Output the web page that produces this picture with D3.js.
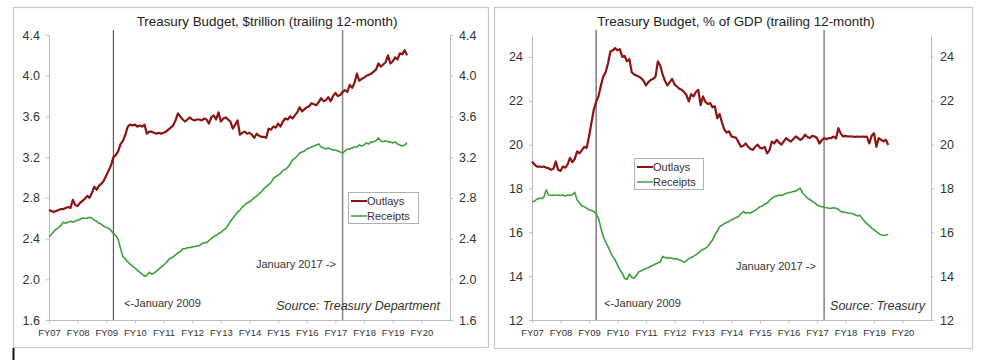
<!DOCTYPE html>
<html>
<head>
<meta charset="utf-8">
<script src="https://cdn.jsdelivr.net/npm/d3@7"></script>
<style>
  html, body { margin: 0; padding: 0; background: #fff; }
  svg { display: block; font-family: "Liberation Sans", Arial, sans-serif; }
</style>
</head>
<body>
<svg id="chart" width="984" height="360"></svg>
<script>
// Monthly data, index 0 = October 2006 (start of FY07)
const fyLabels = ["FY07","FY08","FY09","FY10","FY11","FY12","FY13","FY14","FY15","FY16","FY17","FY18","FY19","FY20"];

const outlaysTrillion = [
  2.68, 2.67, 2.66, 2.67, 2.68, 2.69, 2.69, 2.70, 2.71, 2.70, 2.78, 2.73,
  2.72, 2.75, 2.77, 2.79, 2.82, 2.80, 2.85, 2.91, 2.88, 2.92, 2.94, 2.97,
  3.02, 3.07, 3.12, 3.20, 3.22, 3.26, 3.33, 3.36, 3.42, 3.50, 3.52, 3.51,
  3.52, 3.50, 3.51, 3.50, 3.52, 3.43, 3.45, 3.45, 3.44, 3.43, 3.44, 3.43,
  3.44, 3.45, 3.47, 3.49, 3.51, 3.56, 3.63, 3.60, 3.57, 3.55, 3.57, 3.59,
  3.57, 3.56, 3.57, 3.57, 3.56, 3.58, 3.57, 3.53, 3.59, 3.61, 3.57, 3.64,
  3.55, 3.58, 3.59, 3.57, 3.55, 3.48, 3.52, 3.56, 3.42, 3.44, 3.45, 3.43,
  3.44, 3.42, 3.39, 3.43, 3.41, 3.40, 3.40, 3.39, 3.48, 3.47, 3.50, 3.49,
  3.53, 3.50, 3.55, 3.58, 3.57, 3.60, 3.58, 3.61, 3.64, 3.69, 3.65, 3.67,
  3.69, 3.70, 3.73, 3.72, 3.71, 3.74, 3.78, 3.75, 3.76, 3.79, 3.75, 3.80,
  3.83, 3.80, 3.81, 3.84, 3.86, 3.84, 3.91, 3.88, 3.93, 4.02, 3.95, 3.97,
  3.98, 4.00, 4.01, 4.02, 4.04, 4.06, 4.12, 4.09, 4.11, 4.13, 4.20, 4.12,
  4.14, 4.18, 4.16, 4.22, 4.21, 4.25, 4.20
];
const receiptsTrillion = [
  2.42, 2.44, 2.47, 2.49, 2.51, 2.53, 2.56, 2.55, 2.56, 2.57, 2.56, 2.57,
  2.58, 2.59, 2.60, 2.60, 2.60, 2.61, 2.60, 2.58, 2.57, 2.55, 2.54, 2.52,
  2.51, 2.50, 2.48, 2.45, 2.43, 2.39, 2.30, 2.22, 2.20, 2.17, 2.15, 2.13,
  2.11, 2.09, 2.07, 2.05, 2.03, 2.04, 2.07, 2.05, 2.06, 2.08, 2.10, 2.12,
  2.14, 2.16, 2.19, 2.21, 2.22, 2.24, 2.26, 2.27, 2.30, 2.30, 2.31, 2.31,
  2.32, 2.32, 2.33, 2.33, 2.35, 2.36, 2.36, 2.38, 2.40, 2.42, 2.43, 2.45,
  2.46, 2.48, 2.50, 2.53, 2.57, 2.60, 2.63, 2.66, 2.68, 2.71, 2.73, 2.75,
  2.76, 2.78, 2.80, 2.82, 2.84, 2.86, 2.89, 2.91, 2.93, 2.95, 2.99, 3.01,
  3.02, 3.04, 3.07, 3.08, 3.10, 3.13, 3.17, 3.19, 3.21, 3.24, 3.25, 3.26,
  3.28, 3.29, 3.30, 3.31, 3.32, 3.33, 3.30, 3.29, 3.28, 3.29, 3.28, 3.27,
  3.27, 3.26, 3.25, 3.24, 3.26, 3.28, 3.28, 3.29, 3.30, 3.30, 3.32, 3.31,
  3.32, 3.34, 3.33, 3.35, 3.35, 3.36, 3.39, 3.36, 3.35, 3.36, 3.35, 3.35,
  3.34, 3.35, 3.33, 3.32, 3.31, 3.32, 3.34
];
const outlaysGDP = [
  19.23, 19.10, 19.00, 19.00, 18.98, 19.00, 18.95, 18.92, 18.85, 18.90, 19.23, 18.85,
  18.80, 19.00, 18.95, 19.10, 19.40, 19.20, 19.35, 19.69, 19.60, 19.75, 19.90, 19.85,
  20.37, 20.98, 21.59, 21.95, 22.20, 22.70, 23.10, 23.30, 23.70, 24.25, 24.30, 24.40,
  24.30, 24.35, 24.00, 24.05, 23.80, 23.90, 23.30, 23.20, 23.15, 23.10, 23.03, 22.90,
  22.70, 22.85, 22.95, 23.00, 23.10, 23.80, 23.60, 23.20, 22.90, 22.70, 22.85, 23.00,
  22.75, 22.65, 22.55, 22.50, 22.40, 22.27, 21.97, 22.30, 22.20, 22.40, 22.50, 21.80,
  22.20, 21.95, 21.85, 21.90, 21.70, 21.75, 21.20, 21.40, 21.00, 20.68, 20.55, 20.60,
  20.37, 20.35, 20.30, 20.10, 19.90, 19.95, 20.05, 19.90, 19.80, 19.76, 19.90, 20.00,
  19.85, 19.83, 19.90, 19.60, 19.75, 20.14, 20.05, 20.22, 20.10, 20.00, 20.15, 20.30,
  20.20, 20.14, 20.25, 20.37, 20.30, 20.22, 20.30, 20.45, 20.35, 20.30, 20.40, 20.37,
  20.30, 20.05, 20.20, 20.30, 20.25, 20.30, 20.30, 20.37, 20.28, 20.75, 20.50, 20.37,
  20.40, 20.37, 20.38, 20.37, 20.35, 20.37, 20.36, 20.37, 20.35, 20.37, 20.05, 20.40,
  20.52, 19.90, 20.30, 20.22, 20.15, 20.22, 19.98
];
const receiptsGDP = [
  17.40, 17.42, 17.50, 17.55, 17.55, 17.60, 17.94, 17.70, 17.68, 17.70, 17.68, 17.70,
  17.68, 17.70, 17.65, 17.70, 17.68, 17.72, 17.82, 17.47, 17.35, 17.20, 17.17, 17.10,
  17.02, 17.00, 16.95, 16.85, 16.64, 16.20, 15.80, 15.55, 15.35, 15.10, 14.90, 14.74,
  14.50, 14.30, 14.13, 13.90, 13.85, 14.10, 13.95, 13.90, 14.05, 14.20, 14.25, 14.30,
  14.35, 14.38, 14.45, 14.50, 14.55, 14.60, 14.65, 14.90, 14.85, 14.82, 14.84, 14.80,
  14.80, 14.78, 14.75, 14.70, 14.63, 14.70, 14.80, 14.85, 14.90, 14.97, 15.05, 15.15,
  15.22, 15.27, 15.35, 15.50, 15.65, 15.88, 16.05, 16.26, 16.32, 16.40, 16.45, 16.50,
  16.57, 16.62, 16.68, 16.72, 16.85, 16.95, 16.87, 16.90, 16.88, 16.95, 17.00, 17.08,
  17.17, 17.20, 17.30, 17.33, 17.45, 17.55, 17.63, 17.65, 17.70, 17.68, 17.72, 17.78,
  17.80, 17.83, 17.86, 17.88, 17.95, 18.01, 17.78, 17.68, 17.55, 17.50, 17.40, 17.35,
  17.25, 17.20, 17.17, 17.15, 17.12, 17.10, 17.10, 17.12, 17.10, 17.05, 16.95, 16.92,
  16.90, 16.88, 16.87, 16.85, 16.80, 16.75, 16.78, 16.64, 16.50, 16.40, 16.30, 16.19,
  16.12, 16.03, 15.95, 15.88, 15.85, 15.88, 15.90
];
const trillionTicks = [1.6, 2.0, 2.4, 2.8, 3.2, 3.6, 4.0, 4.4];
const gdpTicks = [12, 14, 16, 18, 20, 22, 24];
// month indexes of the two marker lines (January 2009, January 2017)
const markerMonths = [27, 123];
const seriesNames = ["Outlays", "Receipts"];

const svg = d3.select("#chart");
const colors = { Outlays: "#8c1313", Receipts: "#3f9f3a" };

function panel(cfg) {
  const g = svg.append("g");
  // frame
  g.append("rect").attr("x", cfg.frame[0] + 0.5).attr("y", cfg.frame[1] + 0.5)
    .attr("width", cfg.frame[2]).attr("height", cfg.frame[3])
    .attr("fill", "#fff").attr("stroke", "#c8c8c8").attr("stroke-width", 1.2);

  const x = d3.scaleLinear().domain([0, 168]).range([cfg.x0, cfg.x1]);
  const y = d3.scaleLinear().domain(cfg.yDomain).range([320, 35]);

  // title
  g.append("text").attr("x", cfg.titleX).attr("y", 26).attr("text-anchor", "middle")
    .attr("font-size", 13.4).attr("fill", "#222").text(cfg.title);

  // axes
  const fmt = cfg.fmt;
  const yl = g.append("g").attr("transform", `translate(${cfg.x0},0)`)
    .call(d3.axisLeft(y).tickValues(cfg.ticks).tickSize(3).tickSizeOuter(0).tickPadding(6).tickFormat(fmt));
  const yr = g.append("g").attr("transform", `translate(${cfg.x1},0)`)
    .call(d3.axisRight(y).tickValues(cfg.ticks).tickSize(3).tickSizeOuter(0).tickPadding(6).tickFormat(fmt));
  const xa = g.append("g").attr("transform", `translate(0,320)`)
    .call(d3.axisBottom(x).tickValues(fyLabels.map((d, i) => i * 12)).tickSize(3).tickSizeOuter(0)
      .tickPadding(6).tickFormat((d, i) => fyLabels[i]));
  [yl, yr, xa].forEach(a => {
    a.select(".domain").attr("stroke", "#bdbdbd");
    a.selectAll(".tick line").attr("stroke", "#bdbdbd");
  });
  [yl, yr].forEach(a => a.selectAll(".tick text").attr("font-size", 12.5)
    .attr("fill", "#333").attr("font-family", "Liberation Sans, Arial, sans-serif"));
  xa.selectAll(".tick text").attr("font-size", 9.5).attr("fill", "#333")
    .attr("font-family", "Liberation Sans, Arial, sans-serif");

  // marker lines
  g.selectAll(".marker").data(markerMonths).join("line")
    .attr("x1", d => x(d)).attr("x2", d => x(d))
    .attr("y1", 30).attr("y2", 320)
    .attr("stroke", (d, i) => i === 0 ? "#5a5a5a" : "#8a8a8a")
    .attr("stroke-width", (d, i) => i === 0 ? 1.2 : 1.6);

  // series
  const line = d3.line().x((d, i) => x(i)).y(d => y(d));
  g.append("path").datum(cfg.receipts).attr("d", line).attr("fill", "none")
    .attr("stroke", colors.Receipts).attr("stroke-width", 1.6).attr("stroke-linejoin", "round");
  g.append("path").datum(cfg.outlays).attr("d", line).attr("fill", "none")
    .attr("stroke", colors.Outlays).attr("stroke-width", 2.2).attr("stroke-linejoin", "round");

  // annotations
  g.append("text").attr("x", cfg.jan17[0]).attr("y", cfg.jan17[1]).attr("font-size", 11)
    .attr("fill", "#333").text("January 2017 ->");
  g.append("text").attr("x", cfg.jan09[0]).attr("y", cfg.jan09[1]).attr("font-size", 11)
    .attr("fill", "#333").text("<-January 2009");
  g.append("text").attr("x", cfg.source[0]).attr("y", cfg.source[1]).attr("font-size", 12.5)
    .attr("font-style", "italic").attr("fill", "#333").attr("text-anchor", "end").text(cfg.sourceText);

  // legend
  const lg = g.append("g").attr("transform", `translate(${cfg.legend[0]},${cfg.legend[1]})`);
  lg.append("rect").attr("x", 0.5).attr("y", 0.5).attr("width", cfg.legend[2]).attr("height", 31)
    .attr("fill", "#fff").attr("stroke", "#b0b0b0");
  seriesNames.forEach((name, i) => {
    const yy = 9 + i * 15;
    lg.append("line").attr("x1", 3).attr("x2", 19).attr("y1", yy).attr("y2", yy)
      .attr("stroke", colors[name]).attr("stroke-width", name === "Outlays" ? 2 : 1.5);
    lg.append("text").attr("x", 19).attr("y", yy + 4).attr("font-size", 11).attr("fill", "#333").text(name);
  });
}

panel({
  frame: [13, 7, 475, 340],
  x0: 49, x1: 450,
  yDomain: [1.6, 4.4], ticks: trillionTicks, fmt: d3.format(".1f"),
  title: "Treasury Budget, $trillion (trailing 12-month)", titleX: 267,
  outlays: outlaysTrillion, receipts: receiptsTrillion,
  jan17: [256, 268], jan09: [124, 307], source: [440, 310], sourceText: "Source: Treasury Department",
  legend: [348, 192, 70]
});
panel({
  frame: [494, 7, 478, 341],
  x0: 532, x1: 931,
  yDomain: [12, 25], ticks: gdpTicks, fmt: d3.format("d"),
  title: "Treasury Budget, % of GDP (trailing 12-month)", titleX: 736,
  outlays: outlaysGDP, receipts: receiptsGDP,
  jan17: [736, 270], jan09: [604, 307], source: [925, 310], sourceText: "Source: Treasury",
  legend: [634, 158, 69]
});
// small dark edge mark at the lower left of the page
svg.append("line").attr("x1", 13.5).attr("x2", 13.5).attr("y1", 348).attr("y2", 360)
  .attr("stroke", "#111").attr("stroke-width", 2);
</script>
</body>
</html>
